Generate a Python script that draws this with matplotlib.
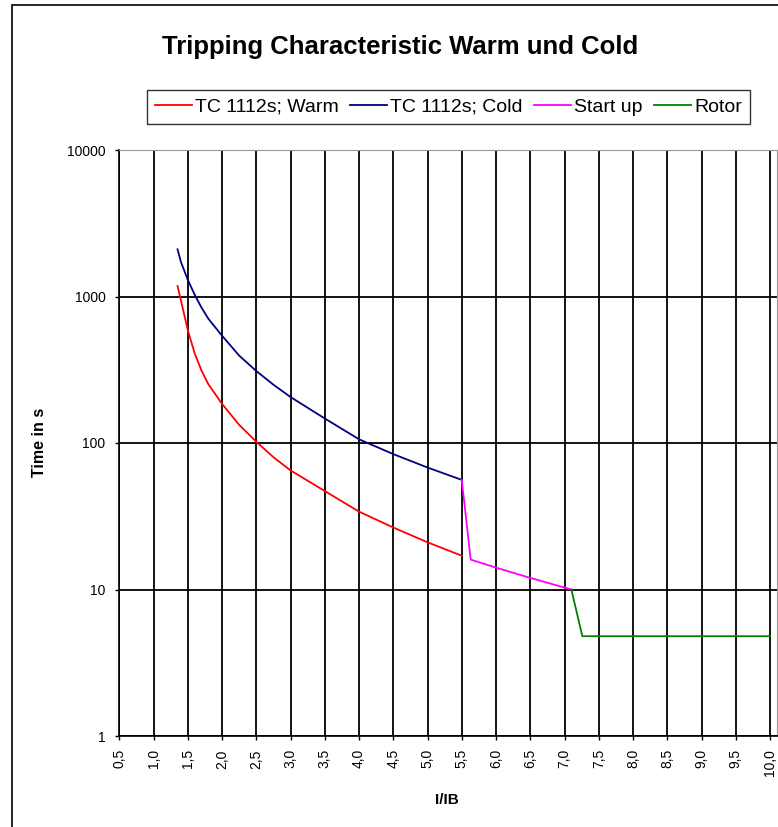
import matplotlib
matplotlib.use('Agg')
import matplotlib.pyplot as plt
from matplotlib.patches import Rectangle
import numpy as np

plt.rcParams['font.family'] = ['Liberation Sans', 'DejaVu Sans']

warm_x = [1.35, 1.4, 1.5, 1.6, 1.7, 1.8, 2.0, 2.25, 2.5, 2.75, 3.0, 3.5, 4.0, 4.5, 5.0, 5.5]
warm_t = [1180, 940, 590, 410, 312, 252, 185, 133, 102, 80, 65, 47, 34, 26.5, 21, 17]

cold_x = [1.35, 1.4, 1.5, 1.6, 1.7, 1.8, 2.0, 2.25, 2.5, 2.75, 3.0, 3.5, 4.0, 4.5, 5.0, 5.5]
cold_t = [2100, 1720, 1300, 1030, 840, 705, 540, 395, 310, 250, 206, 147, 106, 84, 68, 56]

start_x = [5.5, 5.63, 6.0, 6.5, 7.0, 7.1]
start_t = [56, 16, 14.1, 12.0, 10.3, 10.0]

rotor_x = [7.1, 7.26, 10.0]
rotor_t = [10.0, 4.8, 4.8]

xticks = np.arange(0.5, 10.01, 0.5)
xlabels = ['{:.1f}'.format(v).replace('.', ',') for v in xticks]
yticks = [1, 10, 100, 1000, 10000]
ylabels = ['1', '10', '100', '1000', '10000']

fig = plt.figure(figsize=(7.78, 8.27), dpi=100)
W, H = 778, 827
ax = fig.add_axes([119.3 / W, 1 - 736 / H, (777 - 119.3) / W, (736 - 150) / H])

l1, = ax.plot(warm_x, warm_t, color='#FF0000', lw=1.3)
l2, = ax.plot(cold_x, cold_t, color='#000080', lw=1.3)
l3, = ax.plot(start_x, start_t, color='#FF00FF', lw=1.3)
l4, = ax.plot(rotor_x, rotor_t, color='#008000', lw=1.3)

ax.set_yscale('log')
ax.set_ylim(1, 10000)
ax.set_xlim(0.5, 10.0 + 7 / 68.5)
ax.set_yticks(yticks)
ax.set_yticklabels(ylabels)
ax.yaxis.set_minor_locator(matplotlib.ticker.NullLocator())
ax.set_xticks(xticks)
ax.set_xticklabels(xlabels, rotation=90)
ax.tick_params(axis='both', labelsize=10, length=3, width=1, color='black', direction='out')
ax.tick_params(axis='y', pad=7)
ax.tick_params(axis='x', pad=6.5)

ax.grid(True, color='black', lw=1.3)
ax.set_axisbelow(True)
for s in ['top', 'right']:
    ax.spines[s].set_color('#999999')
for s in ['left', 'bottom']:
    ax.spines[s].set_color('black')
    ax.spines[s].set_linewidth(1.2)

fig.text(400 / W, 1 - 47 / H, 'Tripping Characteristic Warm und Cold', ha='center', va='center',
         fontsize=18.5, fontweight='bold')
fig.text(40 / W, 1 - 442 / H, 'Time in s', rotation=90, ha='center', va='center',
         fontsize=11.5, fontweight='bold')
fig.text(447 / W, 1 - 800 / H, 'I/IB', ha='center', va='center', fontsize=11, fontweight='bold')

leg = fig.legend([l1, l2, l3, l4], ['TC 1112s; Warm', 'TC 1112s; Cold', 'Start up', 'Rotor'],
                 loc='center', bbox_to_anchor=(448.5 / W, 1 - 107 / H), ncol=4, fontsize=14,
                 frameon=True, fancybox=False, edgecolor='black', handlelength=1.9,
                 handletextpad=0.15, columnspacing=0.6, borderpad=0.4, borderaxespad=0)
leg.get_frame().set_linewidth(1)

fig.add_artist(Rectangle((12 / W, -0.1), 1.2, 1.1 - 5 / H, transform=fig.transFigure,
                         fill=False, edgecolor='black', lw=1.2))

fig.savefig('out.png', dpi=100)
